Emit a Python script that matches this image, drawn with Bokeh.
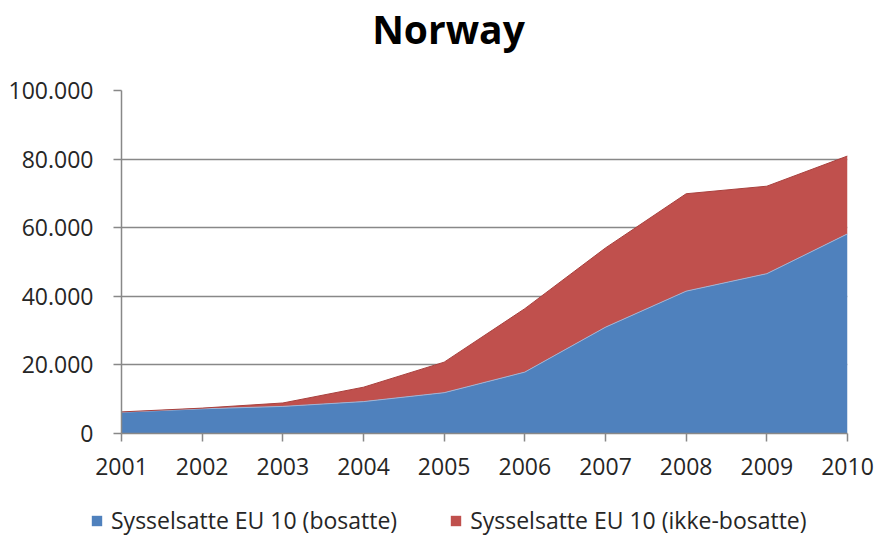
from bokeh.plotting import figure
from bokeh.models import ColumnDataSource, Legend, LegendItem, FixedTicker, Range1d, Label
from bokeh.embed import file_html
from bokeh.resources import INLINE

years = [2001, 2002, 2003, 2004, 2005, 2006, 2007, 2008, 2009, 2010]
bosatte = [6200, 7200, 7900, 9300, 11900, 17900, 31000, 41500, 46600, 58200]
ikke_bosatte = [100, 200, 1000, 4200, 8900, 18500, 23100, 28400, 25500, 22700]
series_names = ["Sysselsatte EU 10 (bosatte)", "Sysselsatte EU 10 (ikke-bosatte)"]
series_colors = ["#4F81BD", "#C0504D"]
y_ticks = [0, 20000, 40000, 60000, 80000, 100000]
y_labels = ["0", "20.000", "40.000", "60.000", "80.000", "100.000"]
title_text = "Norway"

total = [a + b for a, b in zip(bosatte, ikke_bosatte)]
src = ColumnDataSource(dict(x=years, blue=bosatte, total=total, zero=[0] * len(years)))

FONT = "Open Sans"


def blank(h):
    f = figure(width=876, height=h, output_backend="svg", toolbar_location=None,
               x_range=Range1d(0, 1), y_range=Range1d(0, 1),
               min_border_left=0, min_border_right=0, min_border_top=0, min_border_bottom=0)
    f.axis.visible = False
    f.grid.visible = False
    f.outline_line_color = None
    return f


# title strip
tf = blank(70)
tf.add_layout(Label(x=448, y=42, x_units="screen", y_units="screen", text=title_text,
                    text_align="center", text_baseline="alphabetic", text_font=FONT,
                    text_font_size="39px", text_font_style="bold", text_color="#000000"))

# main chart
p = figure(width=876, height=420, output_backend="svg", toolbar_location=None,
           x_range=Range1d(2001, 2010), y_range=Range1d(0, 100000),
           min_border_left=121, min_border_right=29, min_border_top=20, min_border_bottom=57)
p.outline_line_color = None
p.background_fill_color = "white"

p.varea(x="x", y1="zero", y2="blue", source=src, fill_color=series_colors[0])
p.varea(x="x", y1="blue", y2="total", source=src, fill_color=series_colors[1])
p.line(x="x", y="blue", source=src, line_color="#9DB4D6", line_width=1)
p.line(x="x", y="total", source=src, line_color="#A8403D", line_width=1)

p.xgrid.visible = False
p.ygrid.grid_line_color = "#888888"
p.ygrid.grid_line_width = 1.5

p.yaxis.ticker = FixedTicker(ticks=y_ticks)
p.yaxis.major_label_overrides = {t: l for t, l in zip(y_ticks, y_labels)}
p.xaxis.ticker = FixedTicker(ticks=years)
p.xaxis.major_label_overrides = {y: str(y) for y in years}

for ax in (p.xaxis[0], p.yaxis[0]):
    ax.axis_line_color = "#888888"
    ax.axis_line_width = 1.5
    ax.major_tick_line_color = "#888888"
    ax.major_tick_line_width = 1.5
    ax.major_tick_out = 8
    ax.major_tick_in = 0
    ax.minor_tick_line_color = None
    ax.major_label_text_font = FONT
    ax.major_label_text_font_size = "23px"
    ax.major_label_text_color = "#262626"
p.yaxis.major_label_standoff = 20
p.xaxis.major_label_standoff = 16

# legend strip
lg = blank(46)
swatch = ColumnDataSource(dict(x=[2, 3], y1=[2, 2], y2=[3, 3]))
rb = lg.varea(x="x", y1="y1", y2="y2", source=swatch, fill_color=series_colors[0])
rr = lg.varea(x="x", y1="y1", y2="y2", source=swatch, fill_color=series_colors[1])
legend = Legend(items=[LegendItem(label=series_names[0], renderers=[rb]),
                       LegendItem(label=series_names[1], renderers=[rr])],
                orientation="horizontal", location=(90, 0),
                label_text_font=FONT, label_text_font_size="23px", label_text_color="#262626",
                glyph_width=13, glyph_height=13, spacing=52, border_line_color=None,
                background_fill_alpha=0, margin=0, padding=0, label_standoff=8)
lg.add_layout(legend, "center")

open("out.html", "w").write(file_html([tf, p, lg], INLINE))
